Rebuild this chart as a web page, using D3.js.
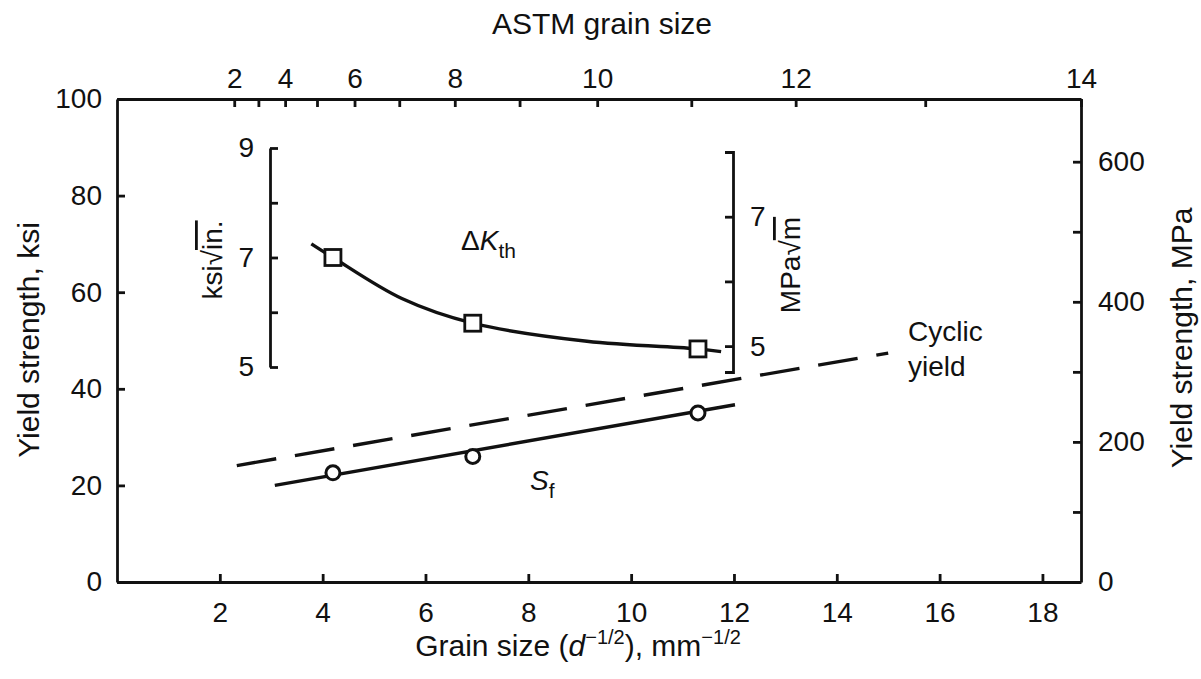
<!DOCTYPE html>
<html><head><meta charset="utf-8">
<script src="https://cdn.jsdelivr.net/npm/d3@7"></script>
<style>
body{margin:0;background:#fff}
svg{display:block}
text{font-family:"Liberation Sans",Arial,Helvetica,sans-serif;fill:#111}
</style>
</head><body>
<svg id="c" width="1201" height="679"></svg>
<script>
// ---- data ----
const bottomTicks = [2,4,6,8,10,12,14,16,18];
const leftTicks = [0,20,40,60,80,100];
const rightTicks = [0,100,200,300,400,500,600];
const rightLabels = [0,200,400,600];
const astmG = [2,3,4,5,6,7,8,9,10,11,12,13,14];
const astmX = [2.28,2.75,3.27,3.89,4.62,5.49,6.57,7.83,9.34,11.17,13.2,15.72,18.75];
const insetLeftTicks = [5,6,7,8,9];
const insetLeftLabels = [5,7,9];
const insetRightTicks = [5,6,7,8];
const insetRightLabels = [5,7];

const sfX = [4.2, 6.92, 11.3];
const sfY = [22.6, 26.0, 35.0];
const sfLineX = [3.07, 12.02];
const sfLineY = [20.0, 36.7];
const cyclicX = [2.33, 15.0];
const cyclicY = [24.1, 47.4];
const kthX = [4.2, 6.92, 11.3];
const kthY = [7.0, 5.8, 5.33];
const kthCurveX = [3.78, 4.2, 5.54, 6.92, 9.14, 11.3, 11.75];
const kthCurveY = [7.25, 7.0, 6.25, 5.8, 5.47, 5.33, 5.28];

// ---- scales ----
const svg = d3.select("#c");
const x = d3.scaleLinear().domain([0,18.75]).range([117,1081]);
const y = d3.scaleLinear().domain([0,100]).range([582,99]);
const yMPa = d3.scaleLinear().domain([0,689.5]).range([582,99]);
const yK = d3.scaleLinear().domain([5,9]).range([367,148]);
const yKm = d3.scaleLinear().domain([4.6,8]).range([372,152]);

const FS = 28, TS = 30;
function styleAxis(g){
  g.attr("font-size",FS).attr("font-family","Liberation Sans, Arial, sans-serif");
  g.selectAll("path.domain").attr("stroke","#111").attr("stroke-width",2.8);
  g.selectAll(".tick line").attr("stroke","#111").attr("stroke-width",2.8);
  g.selectAll(".tick text").attr("fill","#111");
}

svg.append("g").attr("transform","translate(0,582)")
  .call(d3.axisBottom(x).tickValues(bottomTicks).tickSize(-8).tickSizeOuter(0).tickPadding(20))
  .call(styleAxis);
svg.append("g").attr("transform","translate(0,99)")
  .call(d3.axisTop(x).tickValues(astmX).tickFormat((d,i)=> astmG[i]%2===0 ? astmG[i] : "")
    .tickSize(-8).tickSizeOuter(0).tickPadding(11))
  .call(styleAxis);
svg.append("g").attr("transform","translate(117,0)")
  .call(d3.axisLeft(y).tickValues(leftTicks).tickSize(-8).tickSizeOuter(0).tickPadding(15))
  .call(styleAxis);
svg.append("g").attr("transform","translate(1081,0)")
  .call(d3.axisRight(yMPa).tickValues(rightTicks)
    .tickFormat(d=> rightLabels.includes(d) ? d : "").tickSize(-8).tickSizeOuter(0).tickPadding(17))
  .call(styleAxis);

svg.append("g").attr("transform","translate(270,0)")
  .call(d3.axisLeft(yK).tickValues(insetLeftTicks)
    .tickFormat(d=> insetLeftLabels.includes(d) ? d : "").tickSize(-8).tickSizeOuter(0).tickPadding(16))
  .call(styleAxis);
svg.append("g").attr("transform","translate(733,0)")
  .call(d3.axisRight(yKm).tickValues(insetRightTicks)
    .tickFormat(d=> insetRightLabels.includes(d) ? d : "").tickSize(-8).tickSizeOuter(-8).tickPadding(17))
  .call(styleAxis);

svg.append("text").attr("x",602).attr("y",34).attr("text-anchor","middle")
  .attr("font-size",TS).text("ASTM grain size");
const xt = svg.append("text").attr("x",578).attr("y",656).attr("text-anchor","middle").attr("font-size",TS);
xt.append("tspan").text("Grain size (");
xt.append("tspan").attr("font-style","italic").text("d");
xt.append("tspan").attr("font-size",20).attr("dy",-12).text("\u22121/2");
xt.append("tspan").attr("dy",12).text("), mm");
xt.append("tspan").attr("font-size",20).attr("dy",-12).text("\u22121/2");

svg.append("text").attr("transform","translate(39,340) rotate(-90)").attr("text-anchor","middle")
  .attr("font-size",TS).text("Yield strength, ksi");
svg.append("text").attr("transform","translate(1192,338) rotate(-90)").attr("text-anchor","middle")
  .attr("font-size",TS).text("Yield strength, MPa");

const kl = svg.append("text").attr("transform","translate(222,260) rotate(-90)").attr("text-anchor","middle").attr("font-size",FS);
kl.append("tspan").text("ksi\u221A");
kl.append("tspan").style("text-decoration","overline").text("in.");
const ml = svg.append("text").attr("transform","translate(800,265) rotate(-90)").attr("text-anchor","middle").attr("font-size",FS);
ml.append("tspan").text("MPa\u221A");
ml.append("tspan").style("text-decoration","overline").text("m");

const dk = svg.append("text").attr("x",461).attr("y",250).attr("font-size",FS);
dk.append("tspan").text("\u0394");
dk.append("tspan").attr("font-style","italic").text("K");
dk.append("tspan").attr("font-size",21).attr("dy",8).text("th");

const sl = svg.append("text").attr("x",530).attr("y",490).attr("font-size",FS);
sl.append("tspan").attr("font-style","italic").text("S");
sl.append("tspan").attr("font-size",21).attr("dy",8).text("f");

svg.append("text").attr("x",908).attr("y",341).attr("font-size",FS).text("Cyclic");
svg.append("text").attr("x",908).attr("y",376).attr("font-size",FS).text("yield");

const line = d3.line().x(d=>x(d[0])).y(d=>y(d[1]));
svg.append("path").datum(cyclicX.map((v,i)=>[v,cyclicY[i]]))
  .attr("d",line).attr("fill","none").attr("stroke","#111").attr("stroke-width",3.4)
  .attr("stroke-dasharray","40,19");
svg.append("path").datum(sfLineX.map((v,i)=>[v,sfLineY[i]]))
  .attr("d",line).attr("fill","none").attr("stroke","#111").attr("stroke-width",3.4);
svg.selectAll("circle.sf").data(sfX.map((v,i)=>[v,sfY[i]])).enter().append("circle")
  .attr("cx",d=>x(d[0])).attr("cy",d=>y(d[1])).attr("r",7)
  .attr("fill","#fff").attr("stroke","#111").attr("stroke-width",3);

const kline = d3.line().x(d=>x(d[0])).y(d=>yK(d[1])).curve(d3.curveCatmullRom.alpha(0.5));
svg.append("path").datum(kthCurveX.map((v,i)=>[v,kthCurveY[i]]))
  .attr("d",kline).attr("fill","none").attr("stroke","#111").attr("stroke-width",3.4);
const S = 16;
svg.selectAll("rect.k").data(kthX.map((v,i)=>[v,kthY[i]])).enter().append("rect")
  .attr("x",d=>x(d[0])-S/2).attr("y",d=>yK(d[1])-S/2).attr("width",S).attr("height",S)
  .attr("fill","#fff").attr("stroke","#111").attr("stroke-width",2.8);
</script>
</body></html>
